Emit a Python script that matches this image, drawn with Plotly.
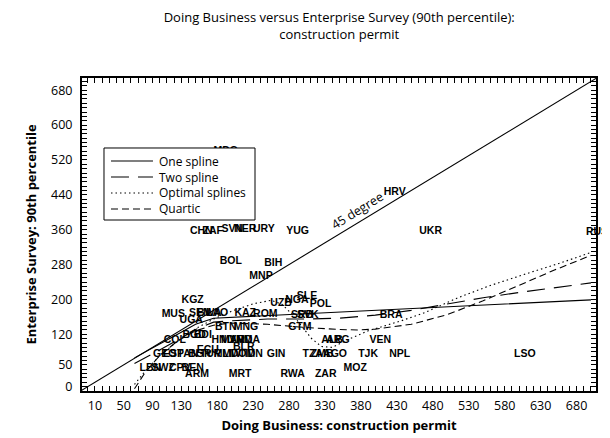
import plotly.graph_objects as go

# ---- country labels: Doing Business (x) vs Enterprise Survey 90th pct (y)
codes = ["MDG", "CHN", "ZAF", "SVN", "NER", "URY", "YUG", "UKR", "RUS", "HRV",
         "BOL", "BIH", "MNP", "KGZ", "MUS", "SEN", "BWA", "LAO", "UGA", "KAZ",
         "ROM", "UZB", "NGA", "SLE", "POL", "SRB", "SVK", "BRA", "BTN", "MNG",
         "GTM", "BGD", "BDI", "COL", "HND", "MAR", "VNM", "MDA", "BLR", "ECU",
         "GEO", "EST", "PAN", "BGR", "TUR", "MLI", "MWI", "DOM", "IDN", "GIN",
         "TZA", "ZMB", "AGO", "TJK", "NPL", "LSO", "ALB", "ARG", "VEN", "LBN",
         "SWZ", "CPV", "BEN", "ARM", "MRT", "RWA", "ZAR", "MOZ"]
db_x = [192, 158, 174, 201, 219, 245, 292, 477, 693, 427,
        199, 258, 241, 146, 119, 156, 169, 180, 144, 219,
        247, 269, 291, 305, 324, 298, 306, 422, 192, 220,
        295, 148, 160, 121, 188, 202, 213, 223, 217, 167,
        107, 119, 139, 156, 171, 188, 202, 216, 231, 262,
        313, 326, 344, 390, 434, 608, 340, 348, 407, 87,
        105, 128, 146, 152, 212, 285, 331, 372]
es_y = [540, 357, 357, 360, 360, 360, 357, 357, 355, 446,
        288, 283, 254, 197, 166, 169, 169, 169, 153, 169,
        166, 192, 199, 206, 188, 164, 164, 164, 135, 135,
        135, 118, 118, 105, 105, 105, 105, 105, 91, 84,
        73, 73, 73, 73, 73, 73, 73, 73, 73, 73,
        73, 73, 73, 73, 73, 73, 105, 105, 105, 43,
        43, 43, 43, 27, 27, 27, 27, 43]

# ---- fitted curves
one_x = [65, 80, 100, 125, 150, 175, 200, 250, 300, 350, 400, 450, 500, 550, 600, 650, 700]
one_y = [66, 80, 98, 120, 143, 157, 159, 163, 167, 171, 175, 179, 183, 187, 191, 195, 199]

two_x = [65, 80, 100, 125, 150, 175, 200, 250, 300, 350, 400, 450, 500, 550, 600, 650, 700]
two_y = [53, 66, 84, 107, 131, 148, 151, 155, 155, 157, 164, 175, 190, 204, 216, 227, 238]

opt_x = [65, 80, 100, 125, 150, 175, 200, 230, 255, 270, 285, 300, 311, 325, 340, 362,
         390, 436, 469, 515, 560, 612, 660, 700]
opt_y = [5, 36, 71, 104, 133, 155, 173, 190, 198, 189, 165, 135, 111, 92, 90, 108,
         128, 151, 170, 204, 232, 260, 285, 308]

qrt_x = [65, 80, 100, 125, 150, 175, 200, 250, 300, 325, 350, 375, 400, 450, 500, 550, 600, 650, 700]
qrt_y = [-5, 33, 71, 105, 128, 141, 146, 143, 136, 133, 131, 130, 132, 143, 165, 197, 232, 268, 301]

deg45 = [-10, 708]

x_ticks = [10, 50, 90, 130, 180, 230, 280, 330, 380, 430, 480, 530, 580, 630, 680]
y_ticks = [0, 50, 120, 200, 280, 360, 440, 520, 600, 680]

series_names = ["One spline", "Two spline", "Optimal splines", "Quartic"]
series_dash = ["solid", "18px,9px", "1.5px,3px", "7px,4px"]

X_RANGE = [-8, 707]
Y_RANGE = [-10, 708]

FONT = "Open Sans"
LBL = "Liberation Sans Narrow, Arial Narrow, Liberation Sans"
LBL_FONT = dict(family=LBL, size=10.5, color="black", weight="bold")

fig = go.Figure()

fig.add_trace(go.Scatter(x=deg45, y=deg45, mode="lines", showlegend=False,
                         line=dict(color="black", width=1.1), hoverinfo="skip"))

# labels at the right-hand edge sit to the right of their point (Stata's default position)
label_pos = ["middle right" if v > 690 else "middle center" for v in db_x]
fig.add_trace(go.Scatter(x=db_x, y=es_y, mode="text", text=codes, showlegend=False,
                         textposition=label_pos, cliponaxis=False, textfont=LBL_FONT))

for nm, xs, ys, dsh in zip(series_names, [one_x, two_x, opt_x, qrt_x],
                           [one_y, two_y, opt_y, qrt_y], series_dash):
    fig.add_trace(go.Scatter(x=xs, y=ys, mode="lines", name=nm, showlegend=False,
                             line=dict(color="black", width=1.1, dash=dsh)))

# empty trace so the mirrored top/right tick axes are drawn
fig.add_trace(go.Scatter(x=[None], y=[None], xaxis="x2", yaxis="y2", mode="lines",
                         showlegend=False, hoverinfo="skip", cliponaxis=False))

fig.add_annotation(x=375, y=405, text="45 degree", showarrow=False, textangle=-31.7,
                   font=dict(family=FONT, size=12.5, color="black"))

# ---- legend box (drawn in paper coordinates)
lg_x0, lg_x1, lg_y0, lg_y1 = 0.0428, 0.3366, 0.5463, 0.7764
entry_y = [0.7348, 0.6837, 0.6326, 0.5815]
fig.add_shape(type="rect", xref="paper", yref="paper", x0=lg_x0, x1=lg_x1, y0=lg_y0, y1=lg_y1,
              fillcolor="white", line=dict(color="black", width=1), layer="above")
for nm, dsh, ey in zip(series_names, series_dash, entry_y):
    fig.add_shape(type="line", xref="paper", yref="paper", x0=0.0564, x1=0.1381, y0=ey, y1=ey,
                  line=dict(color="black", width=1.1, dash=dsh), layer="above")
    fig.add_annotation(xref="paper", yref="paper", x=0.1459, y=ey, xanchor="left",
                       yanchor="middle", text=nm, showarrow=False,
                       font=dict(family=FONT, size=12, color="black"))

minor_ticks = dict(ticks="inside", ticklen=5, tickcolor="black", tickwidth=1, dtick=10, tick0=0)
axis_common = dict(
    showgrid=False, zeroline=False, showline=True, linecolor="black", linewidth=2,
    mirror="allticks", ticks="inside", ticklen=5, tickcolor="black", tickwidth=1,
    tickfont=dict(family=FONT, size=12.5, color="black"), minor=minor_ticks,
)

fig.update_layout(
    xaxis=dict(range=X_RANGE, tickmode="array", tickvals=x_ticks, ticklabelstandoff=2,
               title=dict(text="<b>Doing Business: construction permit</b>",
                          font=dict(family=FONT, size=13, color="black"), standoff=8),
               **axis_common),
    yaxis=dict(range=Y_RANGE, tickmode="array", tickvals=y_ticks, ticklabelstandoff=5,
               title=dict(text="<b>Enterprise Survey: 90th percentile</b>",
                          font=dict(family=FONT, size=13, color="black"), standoff=11),
               **axis_common),
    xaxis2=dict(range=X_RANGE, overlaying="x", side="top", anchor="y2", showgrid=False,
                zeroline=False, showline=False, ticks="inside", ticklen=5, tickcolor="black",
                tickwidth=1, tickmode="array", tickvals=x_ticks, showticklabels=False,
                minor=minor_ticks),
    yaxis2=dict(range=Y_RANGE, overlaying="y", side="right", anchor="x2", showgrid=False,
                zeroline=False, showline=False, ticks="inside", ticklen=5, tickcolor="black",
                tickwidth=1, tickmode="array", tickvals=y_ticks, showticklabels=False,
                minor=minor_ticks),
)

fig.update_layout(
    width=610, height=438,
    margin=dict(l=74, r=22, t=70, b=55),
    paper_bgcolor="white", plot_bgcolor="white",
    title=dict(text="Doing Business versus Enterprise Survey (90th percentile):<br>construction permit",
               x=0.543, xanchor="center", y=0.968, yanchor="top",
               font=dict(family=FONT, size=13, color="black")),
    showlegend=False,
)

fig.write_html("out.html")
